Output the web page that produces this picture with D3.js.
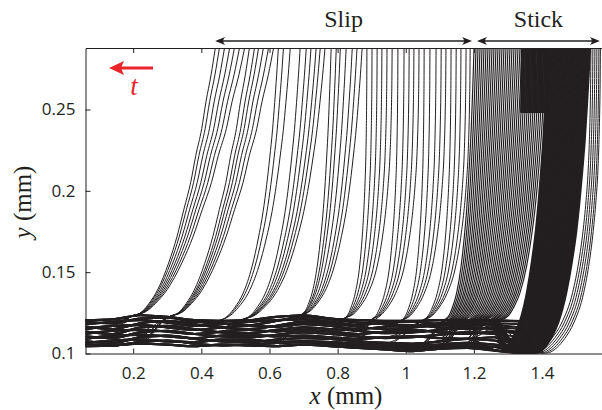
<!DOCTYPE html>
<html><head><meta charset="utf-8">
<script src="https://cdn.jsdelivr.net/npm/d3@7"></script>
<style>body{margin:0;background:#fff}svg{display:block}</style>
</head><body>
<svg id="chart" width="602" height="410"></svg>
<script>
// ---------------- data (mm) ----------------
const xTicks = [0.2, 0.4, 0.6, 0.8, 1.0, 1.2, 1.4];
const xTickLabels = ["0.2", "0.4", "0.6", "0.8", "1", "1.2", "1.4"];
const yTicks = [0.1, 0.15, 0.2, 0.25];
const yTickLabels = ["0.1", "0.15", "0.2", "0.25"];

// contact band (flattened part of the profiles)
const bandKnotsX = [0.06,0.14,0.22,0.30,0.38,0.46,0.54,0.62,0.70,0.78,0.86,0.94,1.02,1.10,1.18,1.26,1.34,1.42,1.50];
const bandTrack1  = [0.1205,0.1210,0.1235,0.1225,0.1205,0.1200,0.1205,0.1225,0.1235,0.1215,0.1205,0.1200,0.1200,0.1205,0.1205,0.1205,0.1200,0.1180,0.1150];
const bandTrack2  = [0.1195,0.1185,0.1215,0.1220,0.1195,0.1185,0.1175,0.1200,0.1225,0.1210,0.1190,0.1180,0.1170,0.1185,0.1195,0.1200,0.1195,0.1170,0.1140];
const bandTrack3  = [0.1180,0.1195,0.1205,0.1190,0.1170,0.1180,0.1195,0.1205,0.1210,0.1195,0.1175,0.1190,0.1195,0.1180,0.1170,0.1185,0.1180,0.1160,0.1130];
const bandTrack4  = [0.1165,0.1150,0.1185,0.1200,0.1180,0.1160,0.1150,0.1170,0.1195,0.1185,0.1165,0.1150,0.1160,0.1175,0.1185,0.1175,0.1160,0.1140,0.1120];
const bandTrack5  = [0.1150,0.1170,0.1175,0.1160,0.1145,0.1160,0.1170,0.1165,0.1180,0.1170,0.1150,0.1165,0.1175,0.1160,0.1150,0.1160,0.1150,0.1130,0.1110];
const bandTrack6  = [0.1135,0.1120,0.1160,0.1170,0.1150,0.1130,0.1125,0.1145,0.1160,0.1150,0.1140,0.1125,0.1130,0.1145,0.1160,0.1150,0.1130,0.1110,0.1100];
const bandTrack7  = [0.1120,0.1140,0.1145,0.1135,0.1120,0.1135,0.1145,0.1135,0.1145,0.1135,0.1120,0.1135,0.1145,0.1130,0.1120,0.1135,0.1120,0.1100,0.1090];
const bandTrack8  = [0.1105,0.1095,0.1130,0.1140,0.1120,0.1105,0.1100,0.1115,0.1130,0.1120,0.1105,0.1095,0.1100,0.1115,0.1130,0.1120,0.1100,0.1080,0.1070];
const bandTrack9  = [0.1090,0.1110,0.1115,0.1105,0.1095,0.1110,0.1115,0.1105,0.1110,0.1100,0.1090,0.1100,0.1105,0.1095,0.1090,0.1100,0.1080,0.1060,0.1050];
const bandTrack10 = [0.1075,0.1065,0.1100,0.1110,0.1090,0.1075,0.1070,0.1085,0.1095,0.1090,0.1075,0.1065,0.1060,0.1075,0.1090,0.1080,0.1060,0.1040,0.1030];
const bandTrack11 = [0.1065,0.1080,0.1085,0.1075,0.1070,0.1085,0.1085,0.1070,0.1075,0.1070,0.1060,0.1055,0.1045,0.1055,0.1065,0.1055,0.1040,0.1020,0.1010];
const bandTrack12 = [0.1055,0.1050,0.1070,0.1080,0.1060,0.1050,0.1055,0.1065,0.1070,0.1060,0.1050,0.1040,0.1030,0.1040,0.1050,0.1040,0.1020,0.1005,0.1000];
const bandTrack13 = [0.1045,0.1050,0.1060,0.1055,0.1045,0.1055,0.1050,0.1045,0.1055,0.1045,0.1035,0.1025,0.1015,0.1030,0.1035,0.1020,0.1000,0.1000,0.1000];
const bandTracks = [bandTrack1,bandTrack2,bandTrack3,bandTrack4,bandTrack5,bandTrack6,bandTrack7,bandTrack8,bandTrack9,bandTrack10,bandTrack11,bandTrack12,bandTrack13];
const bandEndX = 1.34;

// normalised rising profile shapes (fraction of width at fraction of height)
const shapeLevels = [0, 0.02, 0.05, 0.1, 0.2, 0.3, 0.4, 0.5, 0.6, 0.7, 0.8, 0.9, 1.0];
const shapeA = [0, 0.14, 0.22, 0.32, 0.45, 0.55, 0.63, 0.71, 0.77, 0.84, 0.89, 0.95, 1.0];
const shapeM = [0, 0.18, 0.29, 0.42, 0.57, 0.67, 0.75, 0.81, 0.86, 0.905, 0.94, 0.972, 1.0];
const shapeB = [0, 0.22, 0.36, 0.52, 0.70, 0.80, 0.87, 0.92, 0.955, 0.975, 0.988, 0.996, 1.0];

// slip phase: contact edge clusters and profile tops (x at top of frame)
const slipClusterContact = [0.192, 0.303, 0.447, 0.514, 0.690, 0.816, 0.896, 0.984, 1.048];
const slipClusterShape = ["A", "A", "M", "M", "M", "B", "B", "B", "B"];
const slipClusterTops = [
  [0.441, 0.453, 0.468, 0.483, 0.497, 0.512, 0.527],
  [0.541, 0.556, 0.568, 0.582, 0.597, 0.612],
  [0.626, 0.641, 0.661],
  [0.690, 0.708, 0.722, 0.737, 0.749, 0.763],
  [0.781, 0.796, 0.808, 0.825, 0.843, 0.857, 0.872],
  [0.886, 0.901, 0.916, 0.930, 0.945, 0.960],
  [0.977, 0.995, 1.010, 1.024, 1.039],
  [1.054, 1.071, 1.089, 1.104, 1.118],
  [1.133, 1.148, 1.162, 1.177, 1.189]
];

// stick phase
const grayTopX = [1.2004,1.2063,1.2121,1.2180,1.2239,1.2297,1.2356,1.2414,1.2473,1.2532,1.2590,1.2649,1.2707,1.2766,
  1.2825,1.2883,1.2942,1.3001,1.3060,1.3118,1.3177,1.3236,1.3294,1.3353,1.3412,1.3471,1.3529,1.3588,1.3647,1.3705,1.3764,1.3823,1.3881,1.3940,1.3999,1.4057,1.4116];
const grayContactX = [1.1125,1.1169,1.1213,1.1254,1.1301,1.1339,1.1383,1.1427,1.1468,1.1512,1.1553,1.1597,1.1641,1.1682,
  1.1733,1.1780,1.1830,1.1877,1.1927,1.1974,1.2024,1.2070,1.2120,1.2167,1.2217,1.2264,1.2311,1.2361,1.2408,1.2458,1.2505,1.2555,1.2602,1.2651,1.2699,1.2748,1.2795];
const blackTopX = [1.4174,1.4217,1.4259,1.4302,1.4344,1.4387,1.4429,1.4472,1.4514,1.4557,1.4599,1.4642,1.4684,1.4727,1.4769,1.4812,1.4854,1.4897,1.4939,1.4982,1.5024,1.5067,1.5109,1.5152,1.5194,1.5237,1.5279,1.5322,1.5364,1.5407];
const blackContactX = [1.2767,1.2802,1.2838,1.2873,1.2909,1.2944,1.2979,1.3015,1.3050,1.3086,1.3121,1.3156,1.3192,1.3227,1.3262,1.3298,1.3333,1.3369,1.3404,1.3439,1.3475,1.3510,1.3546,1.3581,1.3616,1.3652,1.3687,1.3723,1.3758,1.3793];
const outerTopX = [1.5435, 1.5493, 1.5552, 1.5610, 1.5669, 1.5713];
const outerContactX = [1.3646, 1.3734, 1.3822, 1.3910, 1.3998, 1.4086];
// profiles whose upper part (above the step height) sits further left
const jumpStepY = 0.2485;
const jumpUpperX = [1.3382,1.3417,1.3452,1.3487,1.3522,1.3557,1.3592,1.3627,1.3662,1.3697,1.3732,1.3767,1.3802,1.3837,1.3872,1.3907,1.3942,1.3977,1.4012,1.4047,1.4082,1.4117,1.4152,1.4180];
const jumpFromBlack = [1,2,3,4,5,6,7,8,9,10,11,12,13,14,15,16,17,18,19,20,21,22,23,24];

// ---------------- drawing ----------------
const Y_TOP = 0.2878;
const svg = d3.select("#chart");
const x = d3.scaleLinear().domain([0.06, 1.576]).range([85.5, 602]);
const y = d3.scaleLinear().domain([0.1, Y_TOP]).range([353.5, 48]);
const ink = "#231f20";
const shapes = {A: shapeA, M: shapeM, B: shapeB};

const trackScales = bandTracks.map(t => d3.scaleLinear().domain(bandKnotsX).range(t).clamp(true));
const topTrack = trackScales[0];
const bottomTrack = trackScales[trackScales.length - 1];

function buildCurve(xc, xt, shape, contactY, trackIdx) {
  const tr = trackScales[trackIdx % trackScales.length];
  const pts = [];
  bandKnotsX.forEach(k => { if (k < xc - 0.03) pts.push([k, tr(k)]); });
  shapeLevels.forEach((v, j) => pts.push([xc + shape[j] * (xt - xc), contactY + v * (Y_TOP - contactY)]));
  return pts;
}

const curves = [];
let idx = 0;
slipClusterTops.forEach((tops, c) => {
  const xc = slipClusterContact[c];
  tops.forEach(t => {
    curves.push({pts: buildCurve(xc, t, shapes[slipClusterShape[c]], topTrack(xc), idx++), w: 1});
  });
});
grayTopX.forEach((t, i) => {
  const xc = grayContactX[i];
  curves.push({pts: buildCurve(xc, t, shapeM, topTrack(xc), idx++), w: 1.2});
});
blackTopX.forEach((t, i) => {
  const xc = blackContactX[i];
  curves.push({pts: buildCurve(xc, t, shapeM, bottomTrack(xc), idx++), w: 2.2});
});
outerTopX.forEach((t, i) => {
  const xc = outerContactX[i];
  curves.push({pts: buildCurve(xc, t, shapeB, bottomTrack(xc), idx++), w: 1});
});
const shapeInv = d3.scaleLinear().domain(shapeLevels).range(shapeM);
const jumpSegs = jumpUpperX.map((ux, j) => {
  const b = jumpFromBlack[j];
  const xc = blackContactX[b], xt = blackTopX[b], cy = bottomTrack(xc);
  const xs = xc + shapeInv((jumpStepY - cy) / (Y_TOP - cy)) * (xt - xc);
  return [[xs, jumpStepY], [ux, jumpStepY], [ux + 0.002, Y_TOP]];
});
const bandLines = bandTracks.map(t => bandKnotsX.map((k, i) => [k, t[i]]).filter(p => p[0] <= bandEndX));

svg.append("defs").append("clipPath").attr("id", "plotclip")
  .append("rect").attr("x", 85.5).attr("y", 48).attr("width", 520).attr("height", 305.5);

const plot = svg.append("g").attr("clip-path", "url(#plotclip)");
const line = d3.line().x(d => x(d[0])).y(d => y(d[1])).curve(d3.curveMonotoneX);
const lineLin = d3.line().x(d => x(d[0])).y(d => y(d[1]));

plot.selectAll("path.band").data(bandLines).join("path")
  .attr("class", "band")
  .attr("d", d => line(d))
  .attr("fill", "none").attr("stroke", ink).attr("stroke-width", 2.1);
plot.selectAll("path.prof").data(curves).join("path")
  .attr("class", "prof")
  .attr("d", d => line(d.pts))
  .attr("fill", "none").attr("stroke", ink).attr("stroke-width", d => d.w);
plot.selectAll("path.jump").data(jumpSegs).join("path")
  .attr("class", "jump")
  .attr("d", d => lineLin(d))
  .attr("fill", "none").attr("stroke", ink).attr("stroke-width", 1.8);

// axes
const fontTick = "'Open Sans', sans-serif";
const xAxis = svg.append("g").attr("transform", `translate(0,${y(0.1)})`)
  .call(d3.axisBottom(x).tickValues(xTicks).tickFormat((d, i) => xTickLabels[i]).tickSizeInner(-5).tickSizeOuter(0).tickPadding(13));
const xAxisTop = svg.append("g").attr("transform", `translate(0,${y(Y_TOP)})`)
  .call(d3.axisTop(x).tickValues(xTicks).tickFormat("").tickSizeInner(-5).tickSizeOuter(0));
const yAxis = svg.append("g").attr("transform", `translate(${x(0.06)},0)`)
  .call(d3.axisLeft(y).tickValues(yTicks).tickFormat((d, i) => yTickLabels[i]).tickSizeInner(-5).tickSizeOuter(0).tickPadding(10));
[xAxis, xAxisTop, yAxis].forEach(g => {
  g.selectAll("path.domain").attr("stroke", ink).attr("stroke-width", 1);
  g.selectAll("line").attr("stroke", ink);
  g.selectAll("text").attr("fill", ink).style("font-family", fontTick).style("font-size", "17px");
});

// axis titles
const serif = "'Liberation Serif', 'DejaVu Serif', serif";
const xt = svg.append("text").attr("x", 346).attr("y", 404).attr("text-anchor", "middle")
  .style("font-family", serif).style("font-size", "25px").attr("fill", ink);
xt.append("tspan").style("font-style", "italic").text("x");
xt.append("tspan").text(" (mm)");
const yt = svg.append("text").attr("transform", "translate(31,202) rotate(-90)").attr("text-anchor", "middle")
  .style("font-family", serif).style("font-size", "25px").attr("fill", ink);
yt.append("tspan").style("font-style", "italic").text("y");
yt.append("tspan").text(" (mm)");

// phase annotations
const phases = [
  {label: "Slip", from: 0.4405, to: 1.1946},
  {label: "Stick", from: 1.2092, to: 1.5698}
];
const arrowY = 41;
function head(px, dir) { // dir = -1 points left, +1 points right
  const b = px - dir * 10;
  return `M${px},${arrowY}L${b},${arrowY - 4}Q${px - dir * 6},${arrowY} ${b},${arrowY + 4}Z`;
}
phases.forEach(p => {
  const a = x(p.from), b = x(p.to);
  svg.append("line").attr("x1", a + 4).attr("x2", b - 4).attr("y1", arrowY).attr("y2", arrowY)
    .attr("stroke", ink).attr("stroke-width", 1.4);
  svg.append("path").attr("d", head(a, -1)).attr("fill", ink);
  svg.append("path").attr("d", head(b, 1)).attr("fill", ink);
  svg.append("text").attr("x", (a + b) / 2).attr("y", 27).attr("text-anchor", "middle")
    .style("font-family", serif).style("font-size", "24px").attr("fill", ink).text(p.label);
});

// time arrow
const red = "#e8252a";
svg.append("line").attr("x1", 153).attr("x2", 120).attr("y1", 68).attr("y2", 68)
  .attr("stroke", red).attr("stroke-width", 3);
svg.append("path").attr("d", "M109,68L124,61L121,68L124,75Z").attr("fill", red);
svg.append("text").attr("x", 134).attr("y", 95).attr("text-anchor", "middle")
  .style("font-family", serif).style("font-style", "italic").style("font-size", "27px")
  .attr("fill", red).text("t");
</script>
</body></html>
